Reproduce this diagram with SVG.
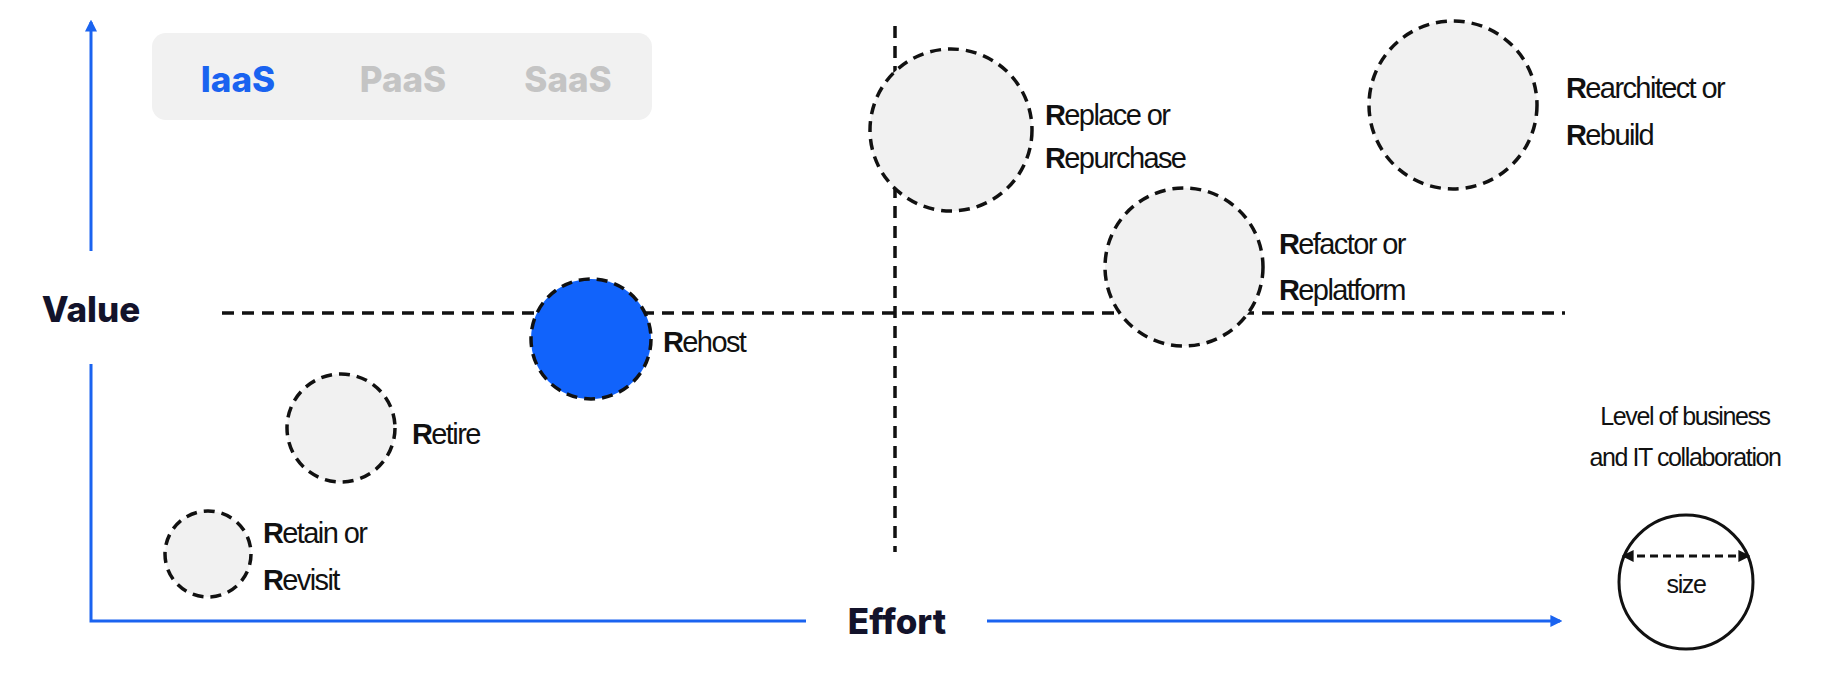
<svg xmlns="http://www.w3.org/2000/svg" width="1822" height="674" viewBox="0 0 1822 674">
<style>
.ax{stroke:#1a63f0;stroke-width:3;fill:none}
.dl{stroke:#111;stroke-width:3.5;stroke-dasharray:12 8;fill:none}
.nd{fill:#f1f1f1;stroke:#111;stroke-width:3.5;stroke-dasharray:11 7}
.lb{font-family:"Liberation Sans",Arial,sans-serif;font-size:29px;fill:#111;letter-spacing:-1.6px}
.lb tspan.b{font-weight:bold}
.ttl{font-family:Inter,"Liberation Sans",sans-serif;font-weight:800;font-size:35px;fill:#13132b}
.tab{font-family:Inter,"Liberation Sans",sans-serif;font-weight:800;font-size:35px;text-anchor:middle}
</style>
<defs>
<marker id="ab" viewBox="0 0 10 10" refX="8" refY="5" markerWidth="4" markerHeight="4" orient="auto-start-reverse"><path d="M0,0L10,5L0,10z" fill="#1a63f0"/></marker>
<marker id="ak" viewBox="0 0 10 10" refX="8" refY="5" markerWidth="4" markerHeight="4" orient="auto-start-reverse"><path d="M0,0L10,5L0,10z" fill="#111"/></marker>
</defs>
<g id="connectors">
<path class="ax" d="M91,251V22" marker-end="url(#ab)"/>
<path class="ax" d="M91,364V621H806"/>
<path class="ax" d="M987,621H1560" marker-end="url(#ab)"/>
<path class="dl" d="M222,313H1565"/>
<path class="dl" d="M895,26V552"/>
</g>
<text class="ttl" x="91" y="322" text-anchor="middle">Value</text>
<text class="ttl" x="897" y="634" text-anchor="middle">Effort</text>
<g id="tabs">
<rect x="152" y="33" width="500" height="87" rx="14" fill="#f1f1f1"/>
<text class="tab" x="238" y="92" fill="#1a63f0">IaaS</text>
<text class="tab" x="403" y="92" fill="#c4c4c4">PaaS</text>
<text class="tab" x="568" y="92" fill="#c4c4c4">SaaS</text>
</g>
<g id="retain"><circle class="nd" cx="208" cy="554" r="43"/><text class="lb" x="263" y="543"><tspan class="b">R</tspan>etain or</text><text class="lb" x="263" y="590"><tspan class="b">R</tspan>evisit</text></g>
<g id="retire"><circle class="nd" cx="341" cy="428" r="54"/><text class="lb" x="412" y="444"><tspan class="b">R</tspan>etire</text></g>
<g id="rehost"><circle class="nd" cx="591" cy="339" r="60" style="fill:#1163fb"/><text class="lb" x="663" y="352"><tspan class="b">R</tspan>ehost</text></g>
<g id="replace"><circle class="nd" cx="951" cy="130" r="81"/><text class="lb" x="1045" y="125"><tspan class="b">R</tspan>eplace or</text><text class="lb" x="1045" y="168"><tspan class="b">R</tspan>epurchase</text></g>
<g id="refactor"><circle class="nd" cx="1184" cy="267" r="79"/><text class="lb" x="1279" y="254"><tspan class="b">R</tspan>efactor or</text><text class="lb" x="1279" y="300"><tspan class="b">R</tspan>eplatform</text></g>
<g id="rearchitect"><circle class="nd" cx="1453" cy="105" r="84"/><text class="lb" x="1566" y="98"><tspan class="b">R</tspan>earchitect or</text><text class="lb" x="1566" y="145"><tspan class="b">R</tspan>ebuild</text></g>
<g id="legend">
<text class="lb" x="1685" y="425" text-anchor="middle" style="font-size:25px;letter-spacing:-1.4px">Level of business</text>
<text class="lb" x="1685" y="466" text-anchor="middle" style="font-size:25px;letter-spacing:-1.4px">and IT collaboration</text>
<circle cx="1686" cy="582" r="67" fill="#fff" stroke="#111" stroke-width="3"/>
<path d="M1624,556H1748" stroke="#111" stroke-width="3" stroke-dasharray="8 5" marker-start="url(#ak)" marker-end="url(#ak)"/>
<text class="lb" x="1686" y="593" text-anchor="middle" style="font-size:25px;letter-spacing:-1.4px">size</text>
</g>
</svg>
